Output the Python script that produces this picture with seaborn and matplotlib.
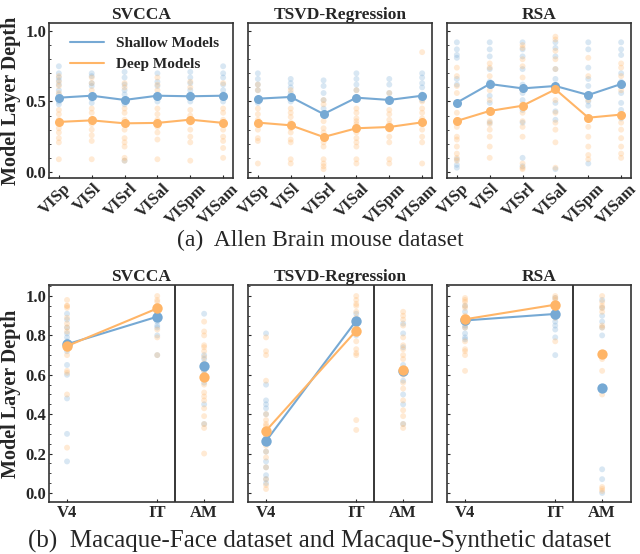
import matplotlib
matplotlib.use("Agg")
import matplotlib.pyplot as plt
from matplotlib.lines import Line2D
from matplotlib.ticker import MultipleLocator
from matplotlib.transforms import ScaledTranslation
import pandas as pd
import seaborn as sns

# Colours
BLUE = '#76a9d4'
ORANGE = '#ffb567'

metrics = ['SVCCA', 'TSVD-Regression', 'RSA']
allen_areas = ['VISp', 'VISl', 'VISrl', 'VISal', 'VISpm', 'VISam']
macaque_areas = ['V4', 'IT', 'AM']

# ---- (a) Allen Brain: per-model layer depth, one list per area ----
svcca_allen_shallow = [
    [0.75, 0.70, 0.67, 0.65, 0.62, 0.58, 0.55, 0.50, 0.48],
    [0.70, 0.68, 0.63, 0.61, 0.52, 0.49],
    [0.71, 0.67, 0.62, 0.58, 0.55, 0.48, 0.08],
    [0.70, 0.64, 0.61, 0.55, 0.50],
    [0.71, 0.67, 0.63, 0.58, 0.55, 0.50],
    [0.75, 0.70, 0.67, 0.62, 0.58, 0.55, 0.50],
]
svcca_allen_deep = [
    [0.68, 0.64, 0.61, 0.56, 0.44, 0.41, 0.37, 0.35, 0.31, 0.28, 0.24, 0.21, 0.09],
    [0.67, 0.63, 0.58, 0.45, 0.42, 0.37, 0.34, 0.30, 0.26, 0.22, 0.09],
    [0.63, 0.60, 0.45, 0.42, 0.37, 0.34, 0.30, 0.24, 0.21, 0.18, 0.10, 0.08],
    [0.67, 0.62, 0.58, 0.45, 0.41, 0.37, 0.32, 0.28, 0.23, 0.09],
    [0.64, 0.60, 0.44, 0.40, 0.35, 0.30, 0.25, 0.21, 0.08],
    [0.63, 0.45, 0.42, 0.37, 0.34, 0.30, 0.25, 0.22, 0.17, 0.10],
]
tsvd_allen_shallow = [
    [0.70, 0.66, 0.62, 0.58, 0.49],
    [0.66, 0.63, 0.60, 0.56, 0.50],
    [0.65, 0.61, 0.56, 0.51, 0.45],
    [0.70, 0.66, 0.62, 0.58],
    [0.66, 0.62, 0.56, 0.51],
    [0.70, 0.67, 0.63, 0.60, 0.55, 0.51],
]
tsvd_allen_deep = [
    [0.62, 0.58, 0.45, 0.41, 0.37, 0.34, 0.30, 0.24, 0.22, 0.06],
    [0.58, 0.45, 0.42, 0.39, 0.35, 0.31, 0.28, 0.23, 0.21, 0.09, 0.06],
    [0.51, 0.48, 0.40, 0.36, 0.31, 0.28, 0.25, 0.21, 0.18, 0.09, 0.06, 0.04, 0.02],
    [0.58, 0.45, 0.42, 0.38, 0.36, 0.34, 0.28, 0.24, 0.21, 0.18, 0.09, 0.06],
    [0.56, 0.50, 0.44, 0.41, 0.37, 0.34, 0.30, 0.25, 0.21, 0.09, 0.06],
    [0.85, 0.50, 0.45, 0.42, 0.38, 0.35, 0.30, 0.25, 0.21, 0.06],
]
rsa_allen_shallow = [
    [0.92, 0.87, 0.83, 0.81, 0.66, 0.62, 0.49, 0.09, 0.05, 0.03],
    [0.92, 0.87, 0.82, 0.73, 0.64, 0.54, 0.49, 0.44, 0.35],
    [0.92, 0.87, 0.82, 0.73, 0.62, 0.56, 0.51, 0.44, 0.35, 0.10, 0.04],
    [0.92, 0.88, 0.82, 0.73, 0.66, 0.49, 0.43, 0.37, 0.02],
    [0.92, 0.87, 0.74, 0.66, 0.61, 0.50, 0.47, 0.06],
    [0.92, 0.87, 0.83, 0.70, 0.64, 0.56, 0.49, 0.44, 0.38],
]
rsa_allen_deep = [
    [0.74, 0.68, 0.61, 0.56, 0.42, 0.37, 0.32, 0.25, 0.23, 0.18, 0.13, 0.10, 0.08],
    [0.77, 0.74, 0.68, 0.58, 0.51, 0.36, 0.34, 0.30, 0.25, 0.18, 0.10],
    [0.90, 0.88, 0.80, 0.75, 0.67, 0.58, 0.48, 0.42, 0.36, 0.32, 0.25, 0.06, 0.03, 0.02],
    [0.96, 0.94, 0.86, 0.80, 0.73, 0.58, 0.51, 0.42, 0.35, 0.30, 0.21, 0.03],
    [0.81, 0.68, 0.51, 0.37, 0.32, 0.25, 0.18, 0.12, 0.09],
    [0.77, 0.74, 0.68, 0.58, 0.40, 0.35, 0.30, 0.24, 0.18, 0.13, 0.10],
]
# mean per area
svcca_allen_shallow_mean = [0.527, 0.541, 0.511, 0.541, 0.537, 0.541]
svcca_allen_deep_mean = [0.355, 0.366, 0.345, 0.348, 0.371, 0.348]
tsvd_allen_shallow_mean = [0.520, 0.532, 0.411, 0.527, 0.511, 0.541]
tsvd_allen_deep_mean = [0.350, 0.331, 0.248, 0.310, 0.319, 0.352]
rsa_allen_shallow_mean = [0.492, 0.624, 0.593, 0.610, 0.546, 0.624]
rsa_allen_deep_mean = [0.362, 0.433, 0.470, 0.586, 0.385, 0.407]

# ---- (b) Macaque: V4, IT (Macaque-Face) and AM (Macaque-Synthetic) ----
svcca_mac_shallow = [
    [0.91, 0.88, 0.84, 0.81, 0.79, 0.77, 0.74, 0.72, 0.65, 0.60, 0.48, 0.30, 0.16],
    [0.90, 0.89, 0.87, 0.85, 0.84, 0.80, 0.70],
    [0.91, 0.70, 0.68, 0.65, 0.62, 0.60, 0.56, 0.45, 0.35],
]
svcca_mac_deep = [
    [0.98, 0.95, 0.95, 0.94, 0.89, 0.86, 0.84, 0.82, 0.75, 0.73, 0.70, 0.62, 0.61, 0.50, 0.23],
    [1.00, 0.98, 0.97, 0.95, 0.94, 0.92, 0.83, 0.79, 0.70],
    [0.87, 0.82, 0.80, 0.75, 0.74, 0.72, 0.69, 0.66, 0.62, 0.55, 0.51, 0.49, 0.47, 0.43,
     0.39, 0.35, 0.33, 0.20],
]
tsvd_mac_shallow = [
    [0.81, 0.55, 0.47, 0.45, 0.43, 0.40, 0.31, 0.28, 0.21, 0.16, 0.13, 0.09, 0.07, 0.05],
    [0.91, 0.87, 0.84, 0.80],
    [0.86, 0.81, 0.74, 0.65, 0.63, 0.57, 0.50, 0.45, 0.35],
]
tsvd_mac_deep = [
    [0.79, 0.72, 0.70, 0.57, 0.40, 0.37, 0.35, 0.34, 0.29, 0.24, 0.21, 0.18, 0.13, 0.07,
     0.04, 0.02],
    [1.00, 0.98, 0.96, 0.95, 0.92, 0.89, 0.85, 0.82, 0.77, 0.73, 0.71, 0.70, 0.37, 0.32],
    [0.92, 0.90, 0.88, 0.85, 0.79, 0.75, 0.73, 0.70, 0.68, 0.62, 0.60, 0.56, 0.53, 0.47,
     0.42, 0.39, 0.35, 0.33],
]
rsa_mac_shallow = [
    [0.95, 0.92, 0.88, 0.85, 0.84, 0.81, 0.79, 0.78],
    [0.99, 0.95, 0.90, 0.89, 0.87, 0.85, 0.83, 0.79, 0.70],
    [0.98, 0.94, 0.90, 0.87, 0.84, 0.80, 0.12, 0.07, 0.00],
]
rsa_mac_deep = [
    [0.99, 0.98, 0.97, 0.95, 0.94, 0.90, 0.84, 0.77, 0.73, 0.72, 0.70, 0.62],
    [1.00, 0.99, 0.98, 0.96, 0.95, 0.93, 0.89, 0.77],
    [1.00, 0.97, 0.95, 0.94, 0.92, 0.85, 0.84, 0.68, 0.62, 0.50, 0.03, 0.02, 0.01],
]
svcca_mac_shallow_mean = [0.755, 0.895, 0.646]
svcca_mac_deep_mean = [0.746, 0.937, 0.589]
tsvd_mac_shallow_mean = [0.264, 0.875, 0.619]
tsvd_mac_deep_mean = [0.316, 0.824, 0.624]
rsa_mac_shallow_mean = [0.876, 0.909, 0.531]
rsa_mac_deep_mean = [0.882, 0.956, 0.706]

allen_x = [0, 1, 2, 3, 4, 5]
mac_x = [0, 1, 1.52]


def to_long(shallow, deep, xs):
    rows = []
    for name, cols in (('Shallow', shallow), ('Deep', deep)):
        for x, vals in zip(xs, cols):
            for v in vals:
                rows.append((x, v, name))
    return pd.DataFrame(rows, columns=['x', 'depth', 'group'])


sns.set_style('ticks')
plt.rcParams['font.family'] = ['Liberation Serif', 'DejaVu Serif']

W, H = 640, 554
fig = plt.figure(figsize=(W / 100, H / 100), dpi=100)
lefts = [49, 248, 447]
palette = {'Shallow': BLUE, 'Deep': ORANGE}
# nudge rotated labels a little to the left so the last one stays inside the figure
nudge = ScaledTranslation(-4 / 100, 0, fig.dpi_scale_trans)


def style_axes(ax):
    for sp in ax.spines.values():
        sp.set_color('#333333')
        sp.set_linewidth(1.2)
    ax.tick_params(direction='in', length=2.5, width=0.8, labelsize=12, pad=2)
    ax.tick_params(which='minor', direction='in', length=1.5, width=0.6)
    for lab in ax.get_xticklabels() + ax.get_yticklabels():
        lab.set_fontweight('bold')


top_data = [
    (svcca_allen_shallow, svcca_allen_deep, svcca_allen_shallow_mean, svcca_allen_deep_mean),
    (tsvd_allen_shallow, tsvd_allen_deep, tsvd_allen_shallow_mean, tsvd_allen_deep_mean),
    (rsa_allen_shallow, rsa_allen_deep, rsa_allen_shallow_mean, rsa_allen_deep_mean),
]
bot_data = [
    (svcca_mac_shallow, svcca_mac_deep, svcca_mac_shallow_mean, svcca_mac_deep_mean),
    (tsvd_mac_shallow, tsvd_mac_deep, tsvd_mac_shallow_mean, tsvd_mac_deep_mean),
    (rsa_mac_shallow, rsa_mac_deep, rsa_mac_shallow_mean, rsa_mac_deep_mean),
]

# (a) top row
for i, (sh, dp, sh_m, dp_m) in enumerate(top_data):
    ax = fig.add_axes([lefts[i] / W, (H - 178) / H, 184 / W, 155 / H])
    df = to_long(sh, dp, allen_x)
    sns.scatterplot(data=df, x='x', y='depth', hue='group', palette=palette,
                    alpha=0.28, s=18, linewidth=0, legend=False, ax=ax)
    sns.lineplot(x=allen_x, y=sh_m, color=BLUE, marker='o', markersize=6.5,
                 markeredgewidth=0, lw=1.5, ax=ax)
    sns.lineplot(x=allen_x, y=dp_m, color=ORANGE, marker='o', markersize=6.5,
                 markeredgewidth=0, lw=1.5, ax=ax)
    ax.set_xlim(-0.3, 5.3)
    ax.set_ylim(-0.043, 1.057)
    ax.set_xticks(allen_x)
    ax.set_xticklabels(allen_areas, rotation=45, fontsize=10.5)
    ax.yaxis.set_major_locator(MultipleLocator(0.5))
    ax.yaxis.set_minor_locator(MultipleLocator(0.1))
    ax.set_xlabel('')
    ax.set_title(metrics[i], fontsize=12.5, fontweight='bold', pad=3)
    if i == 0:
        ax.set_ylabel('Model Layer Depth', fontsize=14.5, fontweight='bold', labelpad=3)
        handles = [Line2D([], [], color=BLUE, lw=1.5), Line2D([], [], color=ORANGE, lw=1.5)]
        leg = ax.legend(handles, ['Shallow Models', 'Deep Models'], loc='upper left',
                        bbox_to_anchor=(0.04, 1.0), frameon=False, handlelength=2.2,
                        fontsize=11, labelspacing=0.45)
        for t in leg.get_texts():
            t.set_fontweight('bold')
    else:
        ax.set_ylabel('')
        ax.set_yticklabels([])
    style_axes(ax)
    # after tick_params, which resets label transforms
    for lab in ax.get_xticklabels():
        lab.set_transform(lab.get_transform() + nudge)

# (b) bottom row
for i, (sh, dp, sh_m, dp_m) in enumerate(bot_data):
    ax = fig.add_axes([lefts[i] / W, (H - 502) / H, 184 / W, 217 / H])
    df = to_long(sh, dp, mac_x)
    sns.scatterplot(data=df, x='x', y='depth', hue='group', palette=palette,
                    alpha=0.28, s=18, linewidth=0, legend=False, ax=ax)
    sns.lineplot(x=mac_x[:2], y=sh_m[:2], color=BLUE, marker='o', markersize=7.5,
                 markeredgewidth=0, lw=1.5, ax=ax)
    sns.lineplot(x=mac_x[:2], y=dp_m[:2], color=ORANGE, marker='o', markersize=7.5,
                 markeredgewidth=0, lw=1.5, ax=ax)
    sns.scatterplot(x=[mac_x[2]], y=[sh_m[2]], color=BLUE, s=55, linewidth=0, ax=ax)
    sns.scatterplot(x=[mac_x[2]], y=[dp_m[2]], color=ORANGE, s=55, linewidth=0, ax=ax)
    ax.axvline(1.2, color='black', lw=1.1)
    ax.set_xlim(-0.2, 1.84)
    ax.set_ylim(-0.046, 1.056)
    ax.set_xticks(mac_x)
    ax.set_xticklabels(macaque_areas, fontsize=12)
    ax.yaxis.set_major_locator(MultipleLocator(0.2))
    ax.yaxis.set_minor_locator(MultipleLocator(0.05))
    ax.set_xlabel('')
    ax.set_title(metrics[i], fontsize=12.5, fontweight='bold', pad=3)
    if i == 0:
        ax.set_ylabel('Model Layer Depth', fontsize=14.5, fontweight='bold', labelpad=3)
    else:
        ax.set_ylabel('')
        ax.set_yticklabels([])
    style_axes(ax)

fig.text(0.5, 1 - 240 / H, '(a)  Allen Brain mouse dataset', ha='center', va='center',
         fontsize=17)
fig.text(0.5, 1 - 541 / H, '(b)  Macaque-Face dataset and Macaque-Synthetic dataset',
         ha='center', va='center', fontsize=18)

fig.savefig('out.png', dpi=100)
